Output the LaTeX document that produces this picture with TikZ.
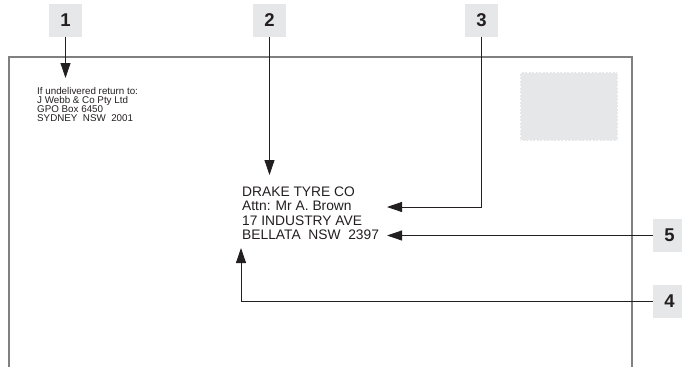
\documentclass[tikz,border=0pt]{standalone}
\usepackage{fontspec}
\setmainfont{Liberation Sans}
\usetikzlibrary{arrows.meta}
\definecolor{boxgray}{HTML}{E6E7E8}
\definecolor{envgray}{HTML}{808080}
\definecolor{ink}{HTML}{231F20}
\begin{document}
\begin{tikzpicture}[x=1pt,y=-1pt,
  numbox/.style={fill=boxgray,minimum width=33pt,minimum height=33pt,inner sep=0pt,
    font=\fontsize{18.5}{18}\selectfont\bfseries,text=ink},
  pointer/.style={draw=ink,line width=0.8pt,-{Triangle[length=15pt,width=10pt]}},
  addr/.style={anchor=base west,inner sep=0pt,font=\fontsize{13.8}{14}\selectfont,text=ink},
  ret/.style={anchor=base west,inner sep=0pt,font=\fontsize{9.8}{9}\selectfont,text=ink}]
\useasboundingbox (0,0) rectangle (682,367);
% envelope
\draw[envgray,line width=1.5pt] (9,367) -- (9,57) -- (632,57) -- (632,367);
% stamp
\fill[boxgray] (520,72) rectangle (618,141);
\draw[white,line width=1.3pt,dash pattern=on 1.5pt off 2pt] (520,72) rectangle (618,141);
% return address
\node[ret] (r1) at (37,94) {If undelivered return to:};
\node[ret] (r2) at (37,103) {J Webb \& Co Pty Ltd};
\node[ret] (r3) at (37,112) {GPO Box 6450};
\node[ret] (r4) at (37,121) {SYDNEY\ \ NSW\ \ 2001};
% main address
\node[addr] (a1) at (242,196) {DRAKE TYRE CO};
\node[addr] (a2) at (242,210.5) {Attn: Mr A. Brown};
\node[addr] (a3) at (242,225) {17 INDUSTRY AVE};
\node[addr] (a4) at (242,239.5) {BELLATA\ \ NSW\ \ 2397};
% number boxes
\node[numbox] (n1) at (65.5,20.5) {1};
\node[numbox] (n2) at (269.5,20.5) {2};
\node[numbox] (n3) at (481.5,20.5) {3};
\node[numbox] (n5) at (669.5,235.5) {5};
\node[numbox] (n4) at (669.5,301) {4};
% arrow tips
\coordinate (t1) at (65.5,78);
\coordinate (t2) at (269.5,175);
\coordinate (t3) at (387,207);
\coordinate (t5) at (387,235.5);
\coordinate (t4) at (241,248);
% pointers
\draw[pointer] (n1.south) -- (t1);
\draw[pointer] (n2.south) -- (t2);
\draw[pointer] (n3.south) |- (t3);
\draw[pointer] (n5.west) -- (t5);
\draw[pointer] (n4.west) -| (t4);
\end{tikzpicture}
\end{document}
